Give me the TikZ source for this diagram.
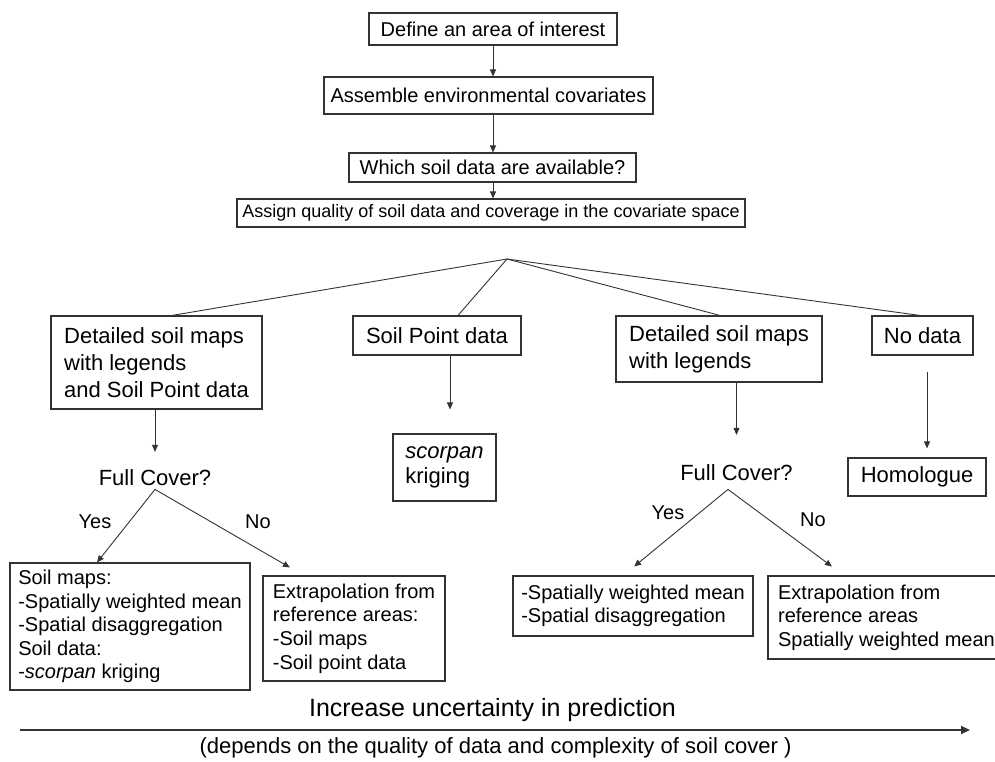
\documentclass[tikz,border=0pt]{standalone}
\usepackage{fontspec}
\setmainfont{Liberation Sans}
\usetikzlibrary{arrows.meta}
\newcommand\fsA{\fontsize{18}{21}\selectfont}
\newcommand\fsB{\fontsize{20}{23.6}\selectfont}
\newcommand\fsC{\fontsize{22}{26.7}\selectfont}
\newcommand\fsD{\fontsize{25}{30}\selectfont}
\newcommand\fsE{\fontsize{22}{25.5}\selectfont}
\begin{document}
\begin{tikzpicture}[x=1pt,y=-1pt,
  box/.style={draw=black!80, line width=1.1pt, inner sep=0pt, align=left},
  lbl/.style={inner sep=0pt},
  link/.style={draw=black!80, line width=0.9pt},
  arr/.style={link, -{Triangle[length=7pt,width=6pt]}}
]
\useasboundingbox (0,0) rectangle (995,762);
\clip (0,0) rectangle (995,762);

% top chain
\node[box, font=\fsB, minimum width=248pt, minimum height=32pt] (def) at (493,29) {Define an area of interest};
\node[box, font=\fsB, minimum width=329pt, minimum height=37pt] (asm) at (488.5,95.5) {Assemble environmental covariates};
\node[box, font=\fsB, minimum width=287pt, minimum height=29pt] (which) at (492.5,167.5) {Which soil data are available?};
\node[box, font=\fsA, minimum width=508pt, minimum height=28pt] (assign) at (491,213) {Assign quality of soil data and coverage in the covariate space};

% second level
\node[box, font=\fsC, minimum width=211pt, minimum height=93pt] (A) at (156.5,362.5) {Detailed soil maps\\with legends\\and Soil Point data};
\node[box, font=\fsC, minimum width=168pt, minimum height=39pt] (SP) at (437,335.5) {Soil Point data};
\node[box, font=\fsC, minimum width=206pt, minimum height=66pt] (D2) at (719,349) {Detailed soil maps\\with legends};
\node[box, font=\fsC, minimum width=101pt, minimum height=39pt] (ND) at (922.5,335.5) {No data};

% third level
\node[lbl, font=\fsC, anchor=base] (FC1) at (155,485) {Full Cover?};
\node[box, font=\fsE, minimum width=103pt, minimum height=67pt] (SC) at (444.5,467.5) {\textit{scorpan}\\kriging};
\node[lbl, font=\fsC, anchor=base] (FC2) at (736.5,480) {Full Cover?};
\node[box, font=\fsC, minimum width=138pt, minimum height=38pt] (HO) at (917,477) {Homologue};

% outcomes
\node[box, font=\fsB, minimum width=240pt, minimum height=127pt] (Y1) at (130,626.5) {Soil maps:\\-Spatially weighted mean\\-Spatial disaggregation\\Soil data:\\-\textit{scorpan} kriging};
\node[box, font=\fsB, minimum width=182pt, minimum height=105pt] (N1) at (354,628.5) {Extrapolation from\\reference areas:\\-Soil maps\\-Soil point data};
\node[box, font=\fsB, minimum width=240pt, minimum height=60pt] (Y2) at (633,606) {-Spatially weighted mean\\-Spatial disaggregation};
\node[box, font=\fsB, minimum width=237pt, minimum height=83pt] (N2) at (886.5,617.5) {Extrapolation from\\reference areas\\Spatially weighted mean};

% yes / no labels
\node[lbl, font=\fsB] (y1) at (95,522) {Yes};
\node[lbl, font=\fsB] (n1) at (258,522) {No};
\node[lbl, font=\fsB] (y2) at (668,513) {Yes};
\node[lbl, font=\fsB] (n2) at (813,520) {No};

% top arrows
\draw[arr] (def.south) -- (def.south |- asm.north);
\draw[arr] (asm.south -| def.south) -- (which.north -| def.south);
\draw[arr] (which.south -| def.south) -- (assign.north -| def.south);

% fan
\coordinate (apex) at (507,259);
\draw[link] (apex) -- ([xshift=15.5pt]A.north);
\draw[link] (apex) -- ([xshift=21pt]SP.north);
\draw[link] (apex) -- ([xshift=1pt]D2.north);
\draw[link] (apex) -- ([xshift=-2.5pt]ND.north);

% vertical arrows
\draw[arr, shorten >=17pt] (FC1.north |- A.south) -- (FC1.north);
\coordinate (spA) at ([xshift=13pt]SP.south);
\draw[arr, shorten >=24pt] (spA) -- (spA |- SC.north);
\draw[arr, shorten >=29pt] (FC2.north |- D2.south) -- (FC2.north);
\coordinate (ndA) at ([xshift=4.5pt]ND.south);
\draw[arr, shorten <=16pt, shorten >=9pt] (ndA) -- (ndA |- HO.north);

% branches
\coordinate (fc1b) at ([yshift=-4pt]FC1.south);
\draw[arr] (fc1b) -- ([xshift=-33pt]Y1.north);
\draw[arr, shorten >=15.9pt] (fc1b) -- ([xshift=-50.3pt]N1.north);
\coordinate (fc2b) at ([xshift=-8.5pt,yshift=-9pt]FC2.south);
\draw[arr, shorten >=14.1pt] (fc2b) -- ([xshift=-9.8pt]Y2.north);
\draw[arr, shorten >=15pt] (fc2b) -- ([xshift=-42.5pt]N2.north);

% uncertainty axis
\node[lbl, font=\fsD] (unc) at (492.5,710) {Increase uncertainty in prediction};
\coordinate (ua) at (20,730);
\coordinate (ub) at (970,730);
\draw[draw=black!80, line width=2pt, -{Triangle[length=9pt,width=8pt]}] (ua) -- (ub);
\node[lbl, font=\fsC] (dep) at (495.5,748) {(depends on the quality of data and complexity of soil cover )};
\end{tikzpicture}
\end{document}
